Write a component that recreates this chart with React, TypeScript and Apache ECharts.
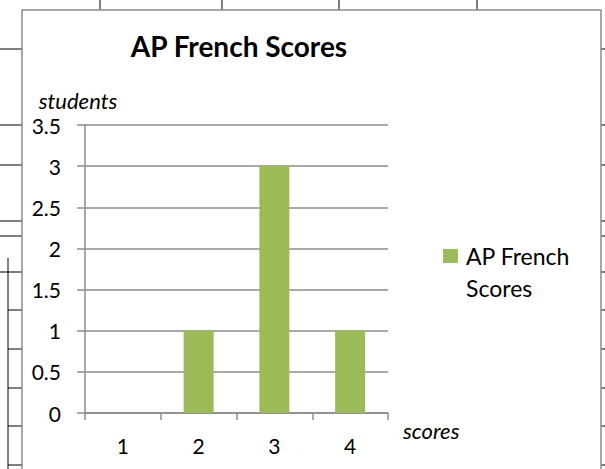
import React, { useEffect, useRef } from "react";
import * as echarts from "echarts";

const categories = ["1", "2", "3", "4"];
const studentCounts = [0, 1, 3, 1];
const seriesName = "AP French Scores";
const titleText = "AP French Scores";
const yAxisName = "students";
const xAxisName = "scores";

// background spreadsheet cell lines (decoration)
const topCellX = [100, 222, 339, 477];
const sideRowY = [49, 125, 165, 221, 236, 272];
const lowerRowY = [310, 349, 388, 426, 465];

export default function App() {
  const ref = useRef<HTMLDivElement>(null);
  useEffect(() => {
    if (!ref.current) return;
    const chart = echarts.init(ref.current, null, { renderer: "svg" });
    const font = "Lato, 'Open Sans', sans-serif";
    const black = "#000";
    const lineStyle = { stroke: "#000", lineWidth: 1 };
    const graphics: any[] = [];
    topCellX.forEach((x) =>
      graphics.push({ type: "line", silent: true, z: -10, shape: { x1: x, y1: 0, x2: x, y2: 10 }, style: lineStyle })
    );
    sideRowY.forEach((y) => {
      graphics.push({ type: "line", silent: true, z: -10, shape: { x1: 0, y1: y, x2: 22, y2: y }, style: lineStyle });
      graphics.push({ type: "line", silent: true, z: -10, shape: { x1: 601, y1: y, x2: 605, y2: y }, style: lineStyle });
    });
    lowerRowY.forEach((y) => {
      graphics.push({ type: "line", silent: true, z: -10, shape: { x1: 8, y1: y, x2: 22, y2: y }, style: lineStyle });
      graphics.push({ type: "line", silent: true, z: -10, shape: { x1: 601, y1: y, x2: 605, y2: y }, style: lineStyle });
    });
    graphics.push({ type: "line", silent: true, z: -10, shape: { x1: 8, y1: 258, x2: 8, y2: 469 }, style: lineStyle });
    graphics.push({
      type: "rect",
      silent: true,
      z: -5,
      shape: { x: 22, y: 10, width: 579, height: 475 },
      style: { fill: "#fff", stroke: "#8c8c8c", lineWidth: 1.5 },
    });

    chart.setOption({
      animation: false,
      backgroundColor: "#fff",
      textStyle: { fontFamily: font },
      graphic: graphics,
      title: {
        text: titleText,
        left: 234,
        top: 27,
        textAlign: "center",
        textStyle: { fontFamily: font, fontWeight: "bold", fontSize: 28, color: black },
      },
      legend: {
        data: [seriesName],
        left: 443,
        top: 244,
        padding: 0,
        itemWidth: 15,
        itemHeight: 14,
        itemGap: 10,
        icon: "rect",
        formatter: () => "{a|AP French}\n{b|Scores}",
        textStyle: {
          fontFamily: font,
          fontSize: 23,
          color: black,
          rich: {
            a: { fontFamily: font, fontSize: 23, color: black, lineHeight: 64, padding: [0, 0, 0, 3] },
            b: { fontFamily: font, fontSize: 23, color: black, lineHeight: 1, padding: [0, 0, 0, 3] },
          },
        },
      },
      grid: { left: 85, right: 217, top: 125, bottom: 56, containLabel: false },
      xAxis: {
        type: "category",
        data: categories,
        name: xAxisName,
        nameLocation: "end",
        nameGap: 15,
        nameTextStyle: {
          fontFamily: font,
          fontStyle: "italic",
          fontSize: 22,
          color: black,
          verticalAlign: "top",
          lineHeight: 34,
        },
        axisLine: { lineStyle: { color: "#8c8c8c", width: 1.5 } },
        axisTick: { show: true, alignWithLabel: false, length: 7, lineStyle: { color: "#8c8c8c", width: 1.5 } },
        axisLabel: { fontFamily: font, fontSize: 21, color: black, margin: 22 },
      },
      yAxis: {
        type: "value",
        min: 0,
        max: 3.5,
        interval: 0.5,
        name: yAxisName,
        nameLocation: "end",
        nameGap: 14,
        nameTextStyle: {
          fontFamily: font,
          fontStyle: "italic",
          fontSize: 22,
          color: black,
          padding: [0, 14, 0, 0],
        },
        axisLine: { show: true, lineStyle: { color: "#8c8c8c", width: 1.5 } },
        axisTick: { show: true, length: 8, lineStyle: { color: "#8c8c8c", width: 1.5 } },
        axisLabel: { fontFamily: font, fontSize: 21, color: black, margin: 24 },
        splitLine: { show: true, lineStyle: { color: "#8c8c8c", width: 1.5 } },
      },
      series: [
        {
          name: seriesName,
          type: "bar",
          data: studentCounts,
          barWidth: 30,
          itemStyle: { color: "#9bbb59" },
        },
      ],
    });
    return () => chart.dispose();
  }, []);
  return (
    <div
      ref={ref}
      style={{ position: "fixed", left: 0, top: 0, width: 605, height: 469 }}
    />
  );
}
